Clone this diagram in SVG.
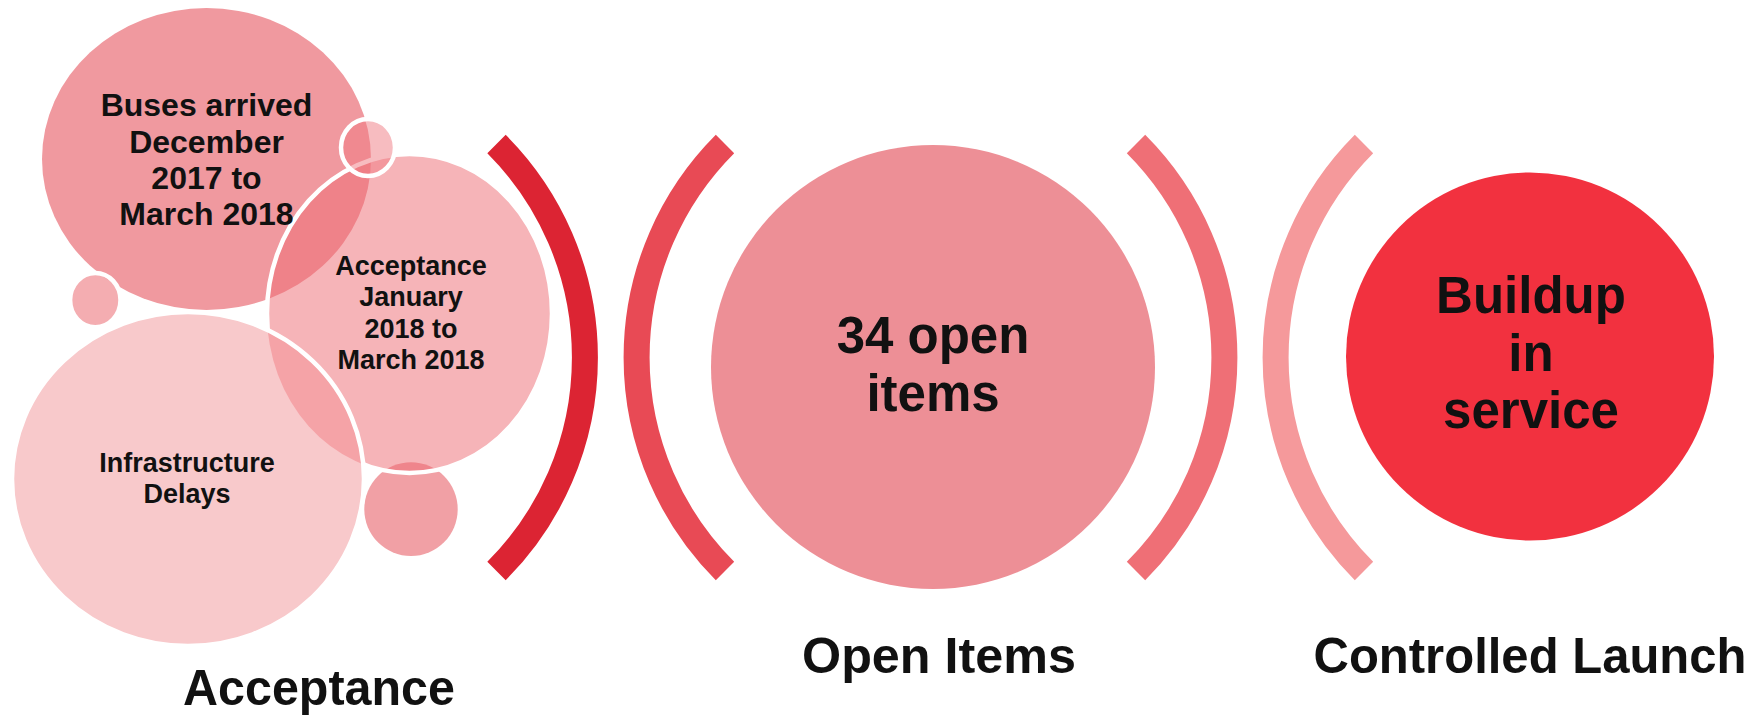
<svg xmlns="http://www.w3.org/2000/svg" width="1763" height="715" viewBox="0 0 1763 715">
<style>
.t{font-family:"Liberation Sans",Arial,sans-serif;font-weight:bold;fill:#111111;text-anchor:middle}
.arc{fill:none;stroke-width:26;stroke-linecap:butt}
.ws{stroke:#ffffff;stroke-width:4.5}
</style>
<defs>
<clipPath id="clipInfra"><ellipse cx="188" cy="479" rx="176" ry="167"/></clipPath>
</defs>
<g id="node-buses">
<ellipse cx="206.5" cy="159" rx="164.5" ry="151" fill="#f0999f"/>
</g>
<g id="node-small-bottom">
<ellipse cx="411" cy="509.2" rx="46.7" ry="46.9" fill="#f1a0a5"/>
</g>
<g id="node-acceptance-jan">
<ellipse cx="409.5" cy="313.5" rx="142.5" ry="159.5" fill="#ed6c74" fill-opacity="0.51" class="ws"/>
</g>
<g id="node-infrastructure">
<ellipse cx="188" cy="479" rx="176" ry="167" fill="#f8c9cb"/>
<ellipse cx="409.5" cy="313.5" rx="142.5" ry="159.5" fill="#f5a3a7" clip-path="url(#clipInfra)"/>
<ellipse cx="188" cy="479" rx="176" ry="167" fill="none" class="ws"/>
</g>
<g id="node-small-left">
<ellipse cx="95.3" cy="300.1" rx="25.2" ry="27.2" fill="#e95b63" fill-opacity="0.5" class="ws"/>
</g>
<g id="node-small-top">
<ellipse cx="368" cy="147.5" rx="27" ry="28.5" fill="#ef7981" fill-opacity="0.5" class="ws"/>
</g>
<g id="node-open-items">
<circle cx="933" cy="367" r="222" fill="#ed8f96"/>
</g>
<g id="node-buildup">
<circle cx="1530" cy="356.5" r="184" fill="#f2313f"/>
</g>
<g id="connectors">
<path class="arc" stroke="#dc2433" d="M 496.5 144 A 302 302 0 0 1 496.5 571"/>
<path class="arc" stroke="#e84a55" d="M 725 144 A 302 302 0 0 0 725 571"/>
<path class="arc" stroke="#ef6f76" d="M 1136 144 A 302 302 0 0 1 1136 571"/>
<path class="arc" stroke="#f5999b" d="M 1364 144 A 302 302 0 0 0 1364 571"/>
</g>
<g id="labels">
<text class="t" font-size="32" x="206.5" y="116">Buses arrived</text>
<text class="t" font-size="32" x="206.5" y="152.5">December</text>
<text class="t" font-size="32" x="206.5" y="189">2017 to</text>
<text class="t" font-size="32" x="206.5" y="225">March 2018</text>
<text class="t" font-size="27" x="411" y="274.5">Acceptance</text>
<text class="t" font-size="27" x="411" y="306">January</text>
<text class="t" font-size="27" x="411" y="337.5">2018 to</text>
<text class="t" font-size="27" x="411" y="369">March 2018</text>
<text class="t" font-size="27" x="187" y="472">Infrastructure</text>
<text class="t" font-size="27" x="187" y="503">Delays</text>
<text class="t" font-size="51" x="933" y="353">34 open</text>
<text class="t" font-size="51" x="933" y="411">items</text>
<text class="t" font-size="51" x="1531" y="313">Buildup</text>
<text class="t" font-size="51" x="1531" y="371">in</text>
<text class="t" font-size="51" x="1531" y="428">service</text>
<text class="t" font-size="50" x="319" y="705" textLength="272" lengthAdjust="spacingAndGlyphs">Acceptance</text>
<text class="t" font-size="50" x="939" y="673" textLength="274" lengthAdjust="spacingAndGlyphs">Open Items</text>
<text class="t" font-size="50" x="1530" y="673" textLength="433" lengthAdjust="spacingAndGlyphs">Controlled Launch</text>
</g>
</svg>
